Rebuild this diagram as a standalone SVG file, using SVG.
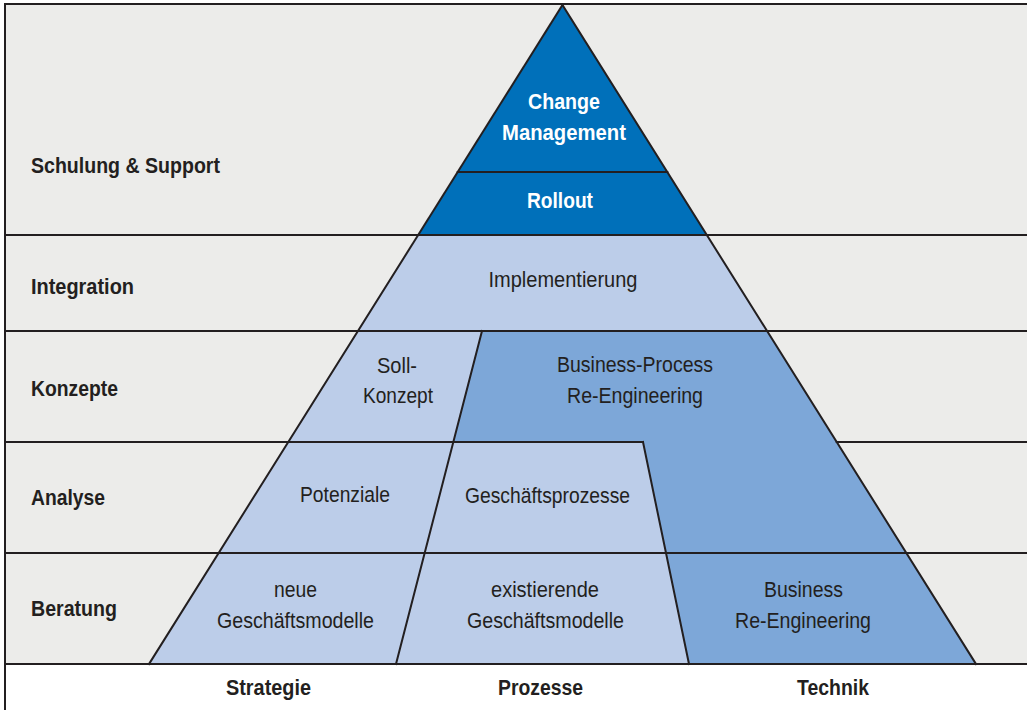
<svg xmlns="http://www.w3.org/2000/svg" width="1027" height="710" viewBox="0 0 1027 710">
<style>
.ln{stroke:#231f20;stroke-width:2;fill:none;stroke-linecap:square}
.dark{fill:#0070ba}
.light{fill:#bccde9}
.mid{fill:#7da7d8}
.t{font-family:"Liberation Sans Narrow","Liberation Sans",Arial,sans-serif;font-size:22px;fill:#231f20;text-anchor:middle}
.b{font-weight:bold}
.w{fill:#ffffff;font-weight:bold}
.row{font-family:"Liberation Sans Narrow","Liberation Sans",Arial,sans-serif;font-size:22px;font-weight:bold;fill:#231f20}
</style>
<rect x="0" y="0" width="1027" height="710" fill="#ffffff"/>
<rect x="5" y="4" width="1022" height="660" fill="#ececea"/>
<g id="rows">
<text class="row" x="31" y="173" textLength="189" lengthAdjust="spacingAndGlyphs">Schulung &amp; Support</text>
<text class="row" x="31" y="294" textLength="103" lengthAdjust="spacingAndGlyphs">Integration</text>
<text class="row" x="31" y="396" textLength="87" lengthAdjust="spacingAndGlyphs">Konzepte</text>
<text class="row" x="31" y="505" textLength="74" lengthAdjust="spacingAndGlyphs">Analyse</text>
<text class="row" x="31" y="616" textLength="86" lengthAdjust="spacingAndGlyphs">Beratung</text>
</g>
<g id="columns">
<text class="t b" x="268.5" y="695" textLength="85" lengthAdjust="spacingAndGlyphs">Strategie</text>
<text class="t b" x="540.5" y="695" textLength="85" lengthAdjust="spacingAndGlyphs">Prozesse</text>
<text class="t b" x="833" y="695" textLength="72" lengthAdjust="spacingAndGlyphs">Technik</text>
</g>
<g id="change-rollout">
<polygon class="dark" points="562.5,5 418.2,235 706.8,235"/>
<text class="t w" x="564" y="109" textLength="72" lengthAdjust="spacingAndGlyphs">Change</text>
<text class="t w" x="564" y="140" textLength="124" lengthAdjust="spacingAndGlyphs">Management</text>
<text class="t w" x="560" y="208" textLength="66" lengthAdjust="spacingAndGlyphs">Rollout</text>
</g>
<g id="implementierung">
<polygon class="light" points="418.2,235 706.8,235 767.1,331 357.9,331"/>
<text class="t" x="563" y="287" textLength="149" lengthAdjust="spacingAndGlyphs">Implementierung</text>
</g>
<g id="soll-konzept">
<polygon class="light" points="357.9,331 482,331 453.3,442 288.3,442"/>
<text class="t" x="397" y="373" textLength="40" lengthAdjust="spacingAndGlyphs">Soll-</text>
<text class="t" x="398" y="403" textLength="70" lengthAdjust="spacingAndGlyphs">Konzept</text>
</g>
<g id="business-process-reengineering">
<polygon class="mid" points="482,331 767.1,331 906.4,553 666,553 643,442 453.3,442"/>
<text class="t" x="635" y="372" textLength="156" lengthAdjust="spacingAndGlyphs">Business-Process</text>
<text class="t" x="635" y="403" textLength="136" lengthAdjust="spacingAndGlyphs">Re-Engineering</text>
</g>
<g id="potenziale">
<polygon class="light" points="288.3,442 453.3,442 424.7,553 218.6,553"/>
<text class="t" x="345" y="502" textLength="90" lengthAdjust="spacingAndGlyphs">Potenziale</text>
</g>
<g id="geschaeftsprozesse">
<polygon class="light" points="453.3,442 643,442 666,553 424.7,553"/>
<text class="t" x="547.5" y="502.5" textLength="165" lengthAdjust="spacingAndGlyphs">Geschäftsprozesse</text>
</g>
<g id="neue-geschaeftsmodelle">
<polygon class="light" points="218.6,553 424.7,553 396,664 149,664"/>
<text class="t" x="295.5" y="597" textLength="43" lengthAdjust="spacingAndGlyphs">neue</text>
<text class="t" x="295.5" y="628" textLength="157" lengthAdjust="spacingAndGlyphs">Geschäftsmodelle</text>
</g>
<g id="existierende-geschaeftsmodelle">
<polygon class="light" points="424.7,553 666,553 689,664 396,664"/>
<text class="t" x="545" y="597" textLength="108" lengthAdjust="spacingAndGlyphs">existierende</text>
<text class="t" x="545.5" y="628" textLength="157" lengthAdjust="spacingAndGlyphs">Geschäftsmodelle</text>
</g>
<g id="business-reengineering">
<polygon class="mid" points="666,553 906.4,553 976,664 689,664"/>
<text class="t" x="803.5" y="597" textLength="79" lengthAdjust="spacingAndGlyphs">Business</text>
<text class="t" x="803" y="628" textLength="136" lengthAdjust="spacingAndGlyphs">Re-Engineering</text>
</g>
<g id="connectors">
<line class="ln" x1="5" y1="4" x2="1027" y2="4"/>
<line class="ln" x1="5" y1="4" x2="5" y2="710"/>
<line class="ln" x1="5" y1="235" x2="1027" y2="235"/>
<line class="ln" x1="5" y1="331" x2="1027" y2="331"/>
<line class="ln" x1="5" y1="442" x2="643" y2="442"/>
<line class="ln" x1="836.7" y1="442" x2="1027" y2="442"/>
<line class="ln" x1="5" y1="553" x2="1027" y2="553"/>
<line class="ln" x1="5" y1="664" x2="1027" y2="664"/>
<line class="ln" x1="457.7" y1="172" x2="667.3" y2="172"/>
<line class="ln" x1="562.5" y1="5" x2="149" y2="664"/>
<line class="ln" x1="562.5" y1="5" x2="976" y2="664"/>
<line class="ln" x1="482" y1="331" x2="396" y2="664"/>
<line class="ln" x1="643" y1="442" x2="689" y2="664"/>
</g>
</svg>
